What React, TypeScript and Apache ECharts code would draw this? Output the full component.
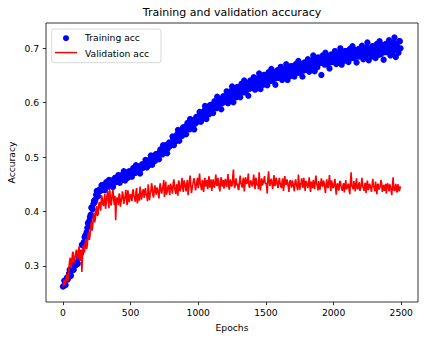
import React, { useEffect, useRef } from "react";
import * as echarts from "echarts";

// Two interleaved readings: at epochs 0,10,20,... and at epochs 5,15,25,...
const EPOCH_STEP = 10;
const HALF_STEP = 5;

const trainAcc = [
  0.262, 0.273, 0.265, 0.279, 0.278, 0.293, 0.282, 0.294, 0.293, 0.304,
  0.307, 0.304, 0.322, 0.322, 0.339, 0.337, 0.353, 0.351, 0.37, 0.377,
  0.39, 0.407, 0.404, 0.42, 0.422, 0.438, 0.428, 0.44, 0.438, 0.449,
  0.447, 0.439, 0.454, 0.448, 0.458, 0.448, 0.457, 0.445, 0.457, 0.454,
  0.458, 0.467, 0.453, 0.466, 0.461, 0.474, 0.457, 0.467, 0.462, 0.474,
  0.472, 0.464, 0.48, 0.473, 0.485, 0.473, 0.483, 0.47, 0.482, 0.48,
  0.484, 0.495, 0.481, 0.493, 0.488, 0.503, 0.486, 0.498, 0.493, 0.506,
  0.505, 0.496, 0.514, 0.508, 0.522, 0.508, 0.522, 0.507, 0.521, 0.52,
  0.525, 0.538, 0.522, 0.538, 0.532, 0.55, 0.53, 0.545, 0.539, 0.555,
  0.553, 0.542, 0.563, 0.554, 0.57, 0.554, 0.568, 0.551, 0.567, 0.564,
  0.57, 0.583, 0.565, 0.581, 0.575, 0.594, 0.57, 0.586, 0.579, 0.596,
  0.594, 0.581, 0.603, 0.593, 0.611, 0.592, 0.607, 0.588, 0.604, 0.601,
  0.607, 0.621, 0.599, 0.617, 0.609, 0.63, 0.601, 0.619, 0.61, 0.629,
  0.625, 0.61, 0.635, 0.623, 0.641, 0.62, 0.636, 0.613, 0.632, 0.627,
  0.633, 0.647, 0.624, 0.642, 0.633, 0.654, 0.625, 0.642, 0.633, 0.651,
  0.647, 0.632, 0.656, 0.644, 0.662, 0.641, 0.656, 0.633, 0.651, 0.646,
  0.652, 0.666, 0.642, 0.66, 0.651, 0.671, 0.642, 0.659, 0.649, 0.667,
  0.663, 0.648, 0.671, 0.659, 0.677, 0.655, 0.671, 0.648, 0.665, 0.66,
  0.666, 0.68, 0.657, 0.675, 0.666, 0.687, 0.658, 0.674, 0.665, 0.683,
  0.679, 0.651, 0.687, 0.675, 0.692, 0.671, 0.686, 0.663, 0.68, 0.675,
  0.681, 0.695, 0.671, 0.689, 0.679, 0.7, 0.67, 0.687, 0.677, 0.695,
  0.691, 0.675, 0.699, 0.686, 0.704, 0.682, 0.697, 0.674, 0.691, 0.685,
  0.691, 0.705, 0.68, 0.699, 0.689, 0.711, 0.678, 0.696, 0.685, 0.704,
  0.699, 0.682, 0.708, 0.694, 0.713, 0.689, 0.706, 0.679, 0.699, 0.693,
  0.699, 0.715, 0.687, 0.707, 0.695, 0.72, 0.684, 0.703, 0.692, 0.713,
];

const trainAccMid = [
  0.263, 0.272, 0.274, 0.275, 0.286, 0.287, 0.293, 0.293, 0.303, 0.301,
  0.306, 0.316, 0.32, 0.324, 0.339, 0.344, 0.356, 0.362, 0.379, 0.383,
  0.394, 0.408, 0.414, 0.417, 0.431, 0.433, 0.439, 0.439, 0.448, 0.444,
  0.444, 0.45, 0.45, 0.446, 0.455, 0.452, 0.456, 0.452, 0.462, 0.457,
  0.457, 0.464, 0.462, 0.459, 0.469, 0.464, 0.468, 0.464, 0.473, 0.469,
  0.469, 0.476, 0.475, 0.471, 0.482, 0.477, 0.481, 0.478, 0.487, 0.483,
  0.483, 0.491, 0.49, 0.485, 0.497, 0.493, 0.499, 0.495, 0.505, 0.5,
  0.501, 0.509, 0.508, 0.505, 0.518, 0.513, 0.52, 0.516, 0.527, 0.523,
  0.524, 0.534, 0.533, 0.529, 0.542, 0.538, 0.544, 0.54, 0.553, 0.548,
  0.549, 0.558, 0.557, 0.551, 0.565, 0.56, 0.566, 0.561, 0.574, 0.567,
  0.568, 0.578, 0.577, 0.571, 0.586, 0.58, 0.586, 0.581, 0.595, 0.587,
  0.588, 0.598, 0.596, 0.59, 0.605, 0.598, 0.605, 0.599, 0.612, 0.604,
  0.605, 0.615, 0.613, 0.605, 0.622, 0.614, 0.62, 0.613, 0.628, 0.619,
  0.619, 0.629, 0.627, 0.619, 0.635, 0.627, 0.633, 0.625, 0.641, 0.631,
  0.631, 0.641, 0.638, 0.63, 0.646, 0.638, 0.644, 0.636, 0.651, 0.641,
  0.641, 0.651, 0.648, 0.64, 0.656, 0.647, 0.653, 0.645, 0.66, 0.65,
  0.649, 0.659, 0.656, 0.648, 0.663, 0.655, 0.661, 0.652, 0.667, 0.657,
  0.657, 0.666, 0.663, 0.655, 0.67, 0.662, 0.668, 0.659, 0.674, 0.664,
  0.664, 0.674, 0.671, 0.663, 0.679, 0.671, 0.676, 0.668, 0.683, 0.673,
  0.673, 0.682, 0.679, 0.67, 0.686, 0.677, 0.683, 0.674, 0.689, 0.678,
  0.679, 0.688, 0.685, 0.676, 0.692, 0.683, 0.689, 0.68, 0.695, 0.684,
  0.684, 0.694, 0.69, 0.682, 0.697, 0.688, 0.694, 0.685, 0.699, 0.689,
  0.688, 0.699, 0.694, 0.685, 0.702, 0.692, 0.698, 0.689, 0.704, 0.693,
  0.692, 0.703, 0.698, 0.688, 0.706, 0.696, 0.701, 0.693, 0.708, 0.697,
  0.695, 0.707, 0.702, 0.692, 0.711, 0.7, 0.706, 0.696, 0.713, 0.7,
];

const valAcc = [
  0.262, 0.275, 0.268, 0.285, 0.279, 0.31, 0.296, 0.322, 0.305, 0.318,
  0.33, 0.312, 0.336, 0.322, 0.289, 0.338, 0.325, 0.35, 0.338, 0.362,
  0.355, 0.381, 0.372, 0.398, 0.387, 0.41, 0.395, 0.418, 0.402, 0.425,
  0.41, 0.432, 0.415, 0.438, 0.406, 0.429, 0.418, 0.44, 0.412, 0.384,
  0.426, 0.412, 0.431, 0.418, 0.437, 0.414, 0.428, 0.42, 0.439, 0.417,
  0.432, 0.419, 0.441, 0.424, 0.436, 0.415, 0.433, 0.446, 0.422, 0.438,
  0.425, 0.443, 0.428, 0.45, 0.421, 0.437, 0.445, 0.426, 0.448, 0.431,
  0.44, 0.424, 0.452, 0.433, 0.446, 0.427, 0.455, 0.436, 0.449, 0.43,
  0.447, 0.433, 0.459, 0.438, 0.45, 0.429, 0.453, 0.441, 0.462, 0.436,
  0.452, 0.437, 0.458, 0.442, 0.466, 0.434, 0.449, 0.461, 0.439, 0.455,
  0.443, 0.47, 0.446, 0.458, 0.436, 0.462, 0.449, 0.441, 0.465, 0.45,
  0.438, 0.459, 0.444, 0.468, 0.447, 0.455, 0.437, 0.463, 0.451, 0.442,
  0.46, 0.445, 0.469, 0.44, 0.456, 0.448, 0.477, 0.443, 0.461, 0.452,
  0.44, 0.466, 0.449, 0.458, 0.437, 0.463, 0.451, 0.47, 0.444, 0.457,
  0.446, 0.468, 0.441, 0.459, 0.452, 0.472, 0.439, 0.461, 0.448, 0.465,
  0.453, 0.433, 0.474, 0.447, 0.46, 0.441, 0.467, 0.45, 0.458, 0.443,
  0.462, 0.447, 0.456, 0.438, 0.465, 0.449, 0.455, 0.436, 0.458, 0.444,
  0.451, 0.437, 0.459, 0.445, 0.468, 0.44, 0.453, 0.446, 0.462, 0.438,
  0.455, 0.443, 0.463, 0.436, 0.45, 0.458, 0.441, 0.466, 0.447, 0.456,
  0.44, 0.461, 0.446, 0.453, 0.434, 0.459, 0.443, 0.467, 0.438, 0.451,
  0.445, 0.46, 0.431, 0.452, 0.439, 0.456, 0.442, 0.449, 0.435, 0.458,
  0.443, 0.451, 0.432, 0.472, 0.445, 0.456, 0.437, 0.461, 0.441, 0.454,
  0.438, 0.462, 0.444, 0.45, 0.434, 0.457, 0.441, 0.448, 0.436, 0.46,
  0.443, 0.455, 0.432, 0.451, 0.44, 0.458, 0.436, 0.449, 0.442, 0.433,
  0.452, 0.437, 0.446, 0.43, 0.463, 0.438, 0.451, 0.435, 0.447, 0.442,
];

const valAccMid = [
  0.268, 0.264, 0.281, 0.272, 0.298, 0.315, 0.303, 0.326, 0.311, 0.324,
  0.317, 0.328, 0.309, 0.33, 0.318, 0.329, 0.343, 0.331, 0.356, 0.348,
  0.372, 0.365, 0.391, 0.38, 0.404, 0.392, 0.413, 0.407, 0.43, 0.414,
  0.423, 0.405, 0.427, 0.421, 0.442, 0.411, 0.434, 0.423, 0.429, 0.419,
  0.42, 0.433, 0.409, 0.425, 0.429, 0.423, 0.44, 0.412, 0.43, 0.427,
  0.425, 0.437, 0.428, 0.418, 0.443, 0.426, 0.42, 0.436, 0.429, 0.441,
  0.436, 0.431, 0.419, 0.44, 0.433, 0.452, 0.43, 0.439, 0.436, 0.444,
  0.433, 0.446, 0.438, 0.441, 0.458, 0.44, 0.431, 0.444, 0.438, 0.451,
  0.44, 0.452, 0.445, 0.432, 0.447, 0.457, 0.437, 0.449, 0.444, 0.457,
  0.445, 0.451, 0.43, 0.456, 0.448, 0.443, 0.457, 0.452, 0.447, 0.462,
  0.457, 0.451, 0.439, 0.453, 0.455, 0.446, 0.458, 0.456, 0.444, 0.459,
  0.451, 0.447, 0.456, 0.45, 0.462, 0.443, 0.457, 0.446, 0.458, 0.449,
  0.453, 0.457, 0.447, 0.459, 0.446, 0.463, 0.45, 0.455, 0.448, 0.441,
  0.455, 0.452, 0.444, 0.462, 0.449, 0.453, 0.458, 0.447, 0.455, 0.45,
  0.456, 0.45, 0.462, 0.448, 0.441, 0.457, 0.453, 0.448, 0.458, 0.451,
  0.447, 0.46, 0.454, 0.457, 0.451, 0.455, 0.447, 0.462, 0.448, 0.455,
  0.452, 0.443, 0.461, 0.449, 0.452, 0.459, 0.446, 0.453, 0.449, 0.457,
  0.446, 0.454, 0.45, 0.439, 0.455, 0.449, 0.461, 0.444, 0.451, 0.456,
  0.448, 0.452, 0.446, 0.455, 0.443, 0.449, 0.457, 0.451, 0.439, 0.45,
  0.452, 0.448, 0.457, 0.444, 0.449, 0.446, 0.455, 0.449, 0.457, 0.443,
  0.452, 0.443, 0.449, 0.441, 0.455, 0.447, 0.438, 0.452, 0.446, 0.441,
  0.449, 0.439, 0.455, 0.447, 0.441, 0.448, 0.452, 0.443, 0.449, 0.438,
  0.45, 0.445, 0.438, 0.453, 0.446, 0.44, 0.451, 0.443, 0.449, 0.447,
  0.437, 0.446, 0.449, 0.44, 0.446, 0.452, 0.443, 0.438, 0.451, 0.446,
  0.444, 0.45, 0.439, 0.447, 0.44, 0.445, 0.438, 0.45, 0.437, 0.446,
];

const xTicks = [0, 500, 1000, 1500, 2000, 2500];
const yTicks = [0.3, 0.4, 0.5, 0.6, 0.7];

const FONT = "DejaVu Sans";
const BLUE = "#0000ff";
const RED = "#ff0000";

export default function App() {
  const ref = useRef<HTMLDivElement>(null);

  useEffect(() => {
    if (!ref.current) return;
    const chart = echarts.init(ref.current, undefined, { renderer: "svg" });

    const trainData: number[][] = [];
    trainAcc.forEach((v, i) => {
      trainData.push([i * EPOCH_STEP, v]);
      trainData.push([i * EPOCH_STEP + HALF_STEP, trainAccMid[i]]);
    });
    const valData: number[][] = [];
    valAcc.forEach((v, i) => {
      valData.push([i * EPOCH_STEP, v]);
      valData.push([i * EPOCH_STEP + HALF_STEP, valAccMid[i]]);
    });

    const tickStyle = { show: true, inside: false, length: 3.2, lineStyle: { color: "#000", width: 0.8 } };
    const textBase = { fontFamily: FONT, fill: "#000" };

    chart.setOption({
      animation: false,
      backgroundColor: "#fff",
      textStyle: { fontFamily: FONT },
      grid: {
        left: 46,
        right: 6,
        top: 23,
        bottom: 40,
        show: true,
        borderColor: "#000",
        borderWidth: 0.8,
        backgroundColor: "#fff",
        containLabel: false,
      },
      xAxis: {
        type: "value",
        min: -124.95,
        max: 2623.95,
        axisLine: { show: false, onZero: false },
        splitLine: { show: false },
        axisTick: { ...tickStyle, customValues: xTicks },
        axisLabel: {
          customValues: xTicks,
          formatter: (v: number) => String(v),
          fontFamily: FONT,
          fontSize: 9.2,
          color: "#000",
          margin: 6,
        },
      },
      yAxis: {
        type: "value",
        min: 0.2337,
        max: 0.7466,
        axisLine: { show: false, onZero: false },
        splitLine: { show: false },
        axisTick: { ...tickStyle, customValues: yTicks },
        axisLabel: {
          customValues: yTicks,
          formatter: (v: number) => v.toFixed(1),
          fontFamily: FONT,
          fontSize: 9.2,
          color: "#000",
          margin: 7,
        },
      },
      graphic: [
        {
          type: "text",
          x: 232,
          y: 12,
          style: { ...textBase, text: "Training and validation accuracy", fontSize: 11, textAlign: "center", textVerticalAlign: "middle" },
        },
        {
          type: "text",
          x: 232,
          y: 327,
          style: { ...textBase, text: "Epochs", fontSize: 9.2, textAlign: "center", textVerticalAlign: "middle" },
        },
        {
          type: "text",
          x: 11.7,
          y: 162.5,
          rotation: Math.PI / 2,
          style: { ...textBase, text: "Accuracy", fontSize: 9.2, textAlign: "center", textVerticalAlign: "middle" },
        },
        {
          type: "group",
          z: 100,
          children: [
            {
              type: "rect",
              shape: { x: 51.7, y: 29, width: 109.3, height: 33.7, r: 2.5 },
              style: { fill: "rgba(255,255,255,0.8)", stroke: "#cccccc", lineWidth: 0.8 },
            },
            {
              type: "circle",
              shape: { cx: 66, cy: 38.2, r: 3 },
              style: { fill: BLUE },
            },
            {
              type: "line",
              shape: { x1: 55, y1: 52.6, x2: 77, y2: 52.6 },
              style: { stroke: RED, lineWidth: 1.5 },
            },
            {
              type: "text",
              x: 85,
              y: 37.7,
              style: { ...textBase, text: "Training acc", fontSize: 9.2, textAlign: "left", textVerticalAlign: "middle" },
            },
            {
              type: "text",
              x: 85,
              y: 53.3,
              style: { ...textBase, text: "Validation acc", fontSize: 9.2, textAlign: "left", textVerticalAlign: "middle" },
            },
          ],
        },
      ],
      series: [
        {
          name: "Training acc",
          type: "scatter",
          data: trainData,
          symbol: "circle",
          symbolSize: 6.3,
          itemStyle: { color: BLUE, opacity: 1 },
          emphasis: { disabled: true },
        },
        {
          name: "Validation acc",
          type: "line",
          data: valData,
          symbol: "none",
          showSymbol: false,
          lineStyle: { color: RED, width: 1.6 },
          itemStyle: { color: RED },
          emphasis: { disabled: true },
        },
      ],
    });

    return () => chart.dispose();
  }, []);

  return (
    <div
      ref={ref}
      style={{ position: "fixed", left: 0, top: 0, width: 424, height: 342, background: "#fff" }}
    />
  );
}
